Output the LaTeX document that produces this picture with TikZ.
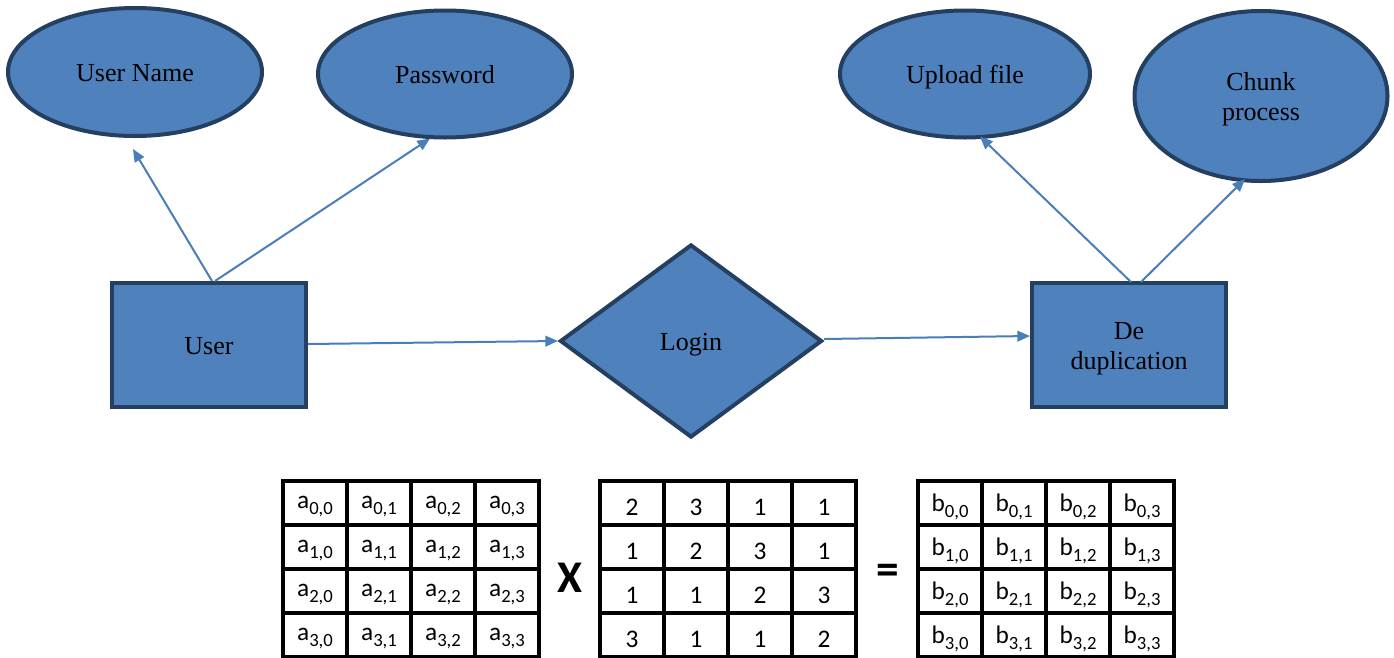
\documentclass[tikz,border=0pt]{standalone}
\usepackage{fontspec}
\setmainfont{Liberation Serif}
\newfontfamily\calib{Carlito}
\usetikzlibrary{shapes.geometric,arrows.meta}
\definecolor{efill}{HTML}{4F81BD}
\definecolor{edge}{HTML}{243F60}
\definecolor{arr}{HTML}{4A7EBB}
\newcommand\mysubcell[2]{\raisebox{-3pt}[\height][\depth]{#1\raisebox{-4.5pt}{\fontsize{14pt}{14pt}\selectfont #2}}}
\newcommand\mydigit[1]{\raisebox{-3pt}[\height][\depth]{#1}}
\newcommand\mydown[1]{\raisebox{-2.5pt}[\height][\depth]{\begin{tabular}{@{}c@{}}#1\end{tabular}}}
\tikzset{
  ent/.style={draw=edge, fill=efill, line width=3pt, font=\fontsize{19.5pt}{23pt}\selectfont, align=center, inner sep=0pt},
  attr/.style={ent, ellipse},
  entbox/.style={ent, rectangle, minimum width=194*0.75pt, minimum height=124*0.75pt},
  rel/.style={ent, diamond, minimum width=262*0.75pt, minimum height=193*0.75pt},
  conn/.style={draw=arr, line width=1.5pt, -{Triangle[length=9.5pt,width=8pt]}},
  mcell/.style={draw=black, line width=2.3pt, minimum width=64*0.75pt, minimum height=44*0.75pt, inner sep=0pt, font=\calib\fontsize{19pt}{22pt}\selectfont},
  opsym/.style={font=\calib\bfseries\fontsize{34pt}{40pt}\selectfont, inner sep=0pt}
}
\begin{document}
\begin{tikzpicture}[x=0.75pt,y=-0.75pt]
\useasboundingbox (0,0) rectangle (1394,657);
% attributes
\node[attr, minimum width=254*0.75pt, minimum height=128*0.75pt] (un) at (135,72) {\mydown{User Name}};
\node[attr, minimum width=254*0.75pt, minimum height=127*0.75pt] (pw) at (445,74) {\mydown{Password}};
\node[attr, minimum width=250*0.75pt, minimum height=127*0.75pt] (up) at (965,74) {\mydown{Upload file}};
\node[attr, minimum width=253*0.75pt, minimum height=170*0.75pt] (ch) at (1261,96) {\mydown{Chunk\\process}};
% entities
\node[entbox] (user) at (209,345) {\mydown{User}};
\node[rel] (login) at (691,341) {\mydown{Login}};
\node[entbox] (dd) at (1129,345) {\mydown{De\\duplication}};
% connectors
\draw[conn] ([xshift=3*0.75pt]user.north) -- ([xshift=-2*0.75pt,yshift=-11*0.75pt]un.south);
\draw[conn] ([xshift=6*0.75pt]user.north) -- ([xshift=-15*0.75pt,yshift=1*0.75pt]pw.south);
\draw[conn] ([yshift=1*0.75pt]user.east) -- (login.west);
\draw[conn] ([yshift=2*0.75pt]login.east) -- ([yshift=9*0.75pt]dd.west);
\draw[conn] ([xshift=2*0.75pt,yshift=-1*0.75pt]dd.north) -- ([xshift=15*0.75pt,yshift=3*0.75pt]up.south);
\draw[conn] ([xshift=12*0.75pt,yshift=-1*0.75pt]dd.north) -- ([xshift=-16*0.75pt,yshift=4*0.75pt]ch.south);
% matrices
\foreach \r [count=\i from 0] in {0,1,2,3}{
  \foreach \c [count=\j from 0] in {0,1,2,3}{
    \node[mcell] (a\r\c) at (315+64*\c, 503+44*\r) {\mysubcell{a}{\r,\c}};
    \node[mcell] (c\r\c) at (950+64*\c, 503+44*\r) {\mysubcell{b}{\r,\c}};
  }
}
\foreach \v [count=\k from 0] in {2,3,1,1,1,2,3,1,1,1,2,3,3,1,1,2}{
  \pgfmathtruncatemacro\rr{int(\k/4)}
  \pgfmathtruncatemacro\cc{mod(\k,4)}
  \node[mcell] (b\rr\cc) at (632+64*\cc, 503+44*\rr) {\mydigit{\v}};
}
\node[opsym] (times) at (570,578) {X};
\node[opsym] (eq) at (888,574) {=};
\end{tikzpicture}
\end{document}
